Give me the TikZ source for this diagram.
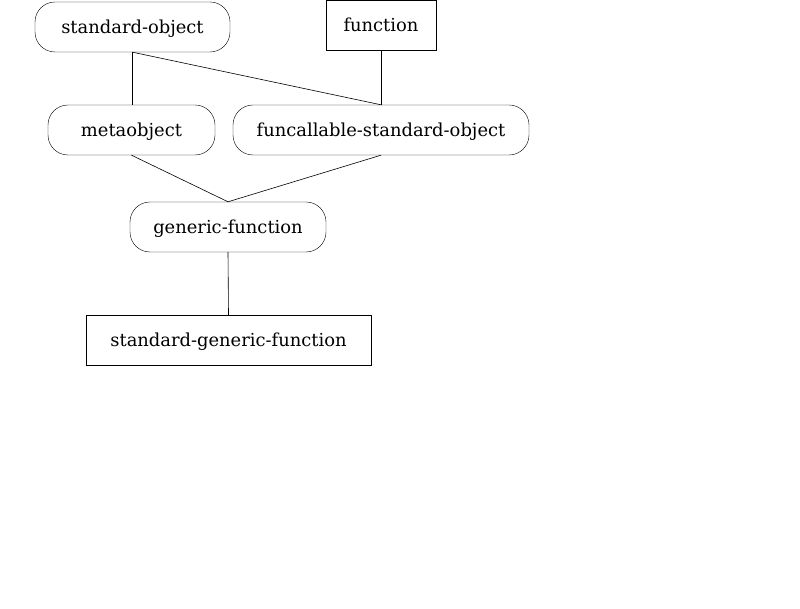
\documentclass[tikz,border=0pt]{standalone}
\usepackage{fontspec}
\setmainfont{DejaVu Serif}
\begin{document}
\begin{tikzpicture}[x=1pt,y=-1pt,
  lbl/.style={font=\fontsize{17.9}{20}\selectfont,text height=14pt,text depth=1pt},
  pill/.style={draw,rounded corners=20pt,minimum height=50pt,inner sep=0pt,lbl},
  sq/.style={draw,minimum height=50pt,inner sep=0pt,lbl},
  link/.style={draw,line width=0.6pt}]
\useasboundingbox (0,0) rectangle (800,609);
\node[pill,minimum width=195pt] (so) at (132.5,27) {standard-object};
\node[sq,minimum width=110pt] (fn) at (381,25.5) {function};
\node[pill,minimum width=167pt] (mo) at (131.5,130) {metaobject};
\node[pill,minimum width=296pt] (fso) at (381,130) {funcallable-standard-object};
\node[pill,minimum width=196pt] (gf) at (228,227) {generic-function};
\node[sq,minimum width=285pt] (sgf) at (228.5,340) {standard-generic-function};
\draw[link] (so.south) -- (so.south |- mo.north);
\draw[link] (so.south) -- (fso.north);
\draw[link] (fn.south) -- (fso.north);
\draw[link] (mo.south) -- (gf.north);
\draw[link] (fso.south) -- (gf.north);
\draw[link] (gf.south) -- (sgf.north);
\end{tikzpicture}
\end{document}
